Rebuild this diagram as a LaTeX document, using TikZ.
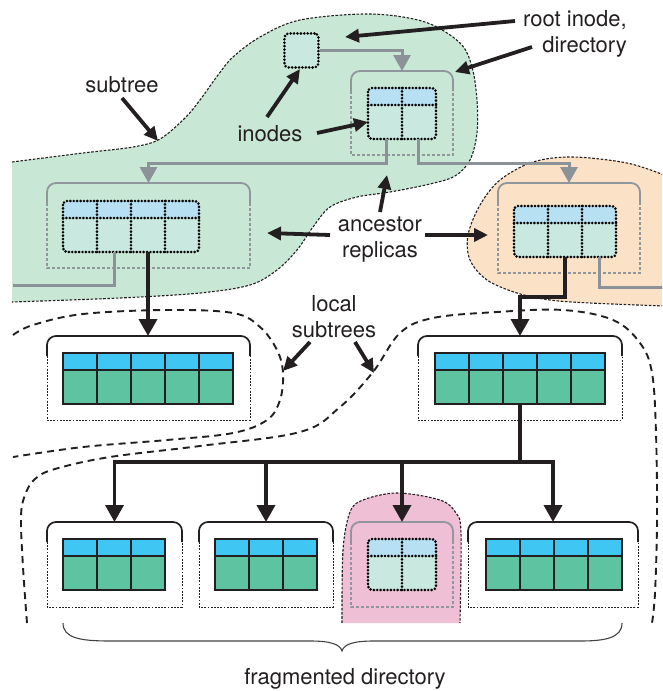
\documentclass[tikz,border=0pt]{standalone}
\usepackage{fontspec}
\setmainfont{TeX Gyre Heros}
\usetikzlibrary{arrows.meta}

\definecolor{ink}{HTML}{231F20}
\definecolor{greenreg}{HTML}{C9E7D5}
\definecolor{orangereg}{HTML}{FBE1C5}
\definecolor{pinkreg}{HTML}{EFBFD5}
\definecolor{hdrB}{HTML}{3FC6F3}
\definecolor{bodyG}{HTML}{5DC3A0}
\definecolor{hdrL}{HTML}{B7E0F3}
\definecolor{bodyL}{HTML}{C9E8E0}
\definecolor{gline}{HTML}{8B9298}
\definecolor{gbox}{HTML}{90979C}

\tikzset{
  regionline/.style={draw=ink, line width=1.1pt, dash pattern=on 2.6pt off 1.6pt},
  localline/.style={draw=ink, line width=1.9pt, dash pattern=on 7pt off 5pt},
  gplain/.style={draw=gline, line width=3pt},
  gconn/.style={gplain, -{Triangle[length=16pt,width=17pt]}},
  bline/.style={draw=ink, line width=3.6pt},
  bconn/.style={bline, -{Triangle[length=17pt,width=18pt]}},
  note/.style={draw=ink, line width=3.8pt, -{Triangle[length=14pt,width=13pt]}},
  lbl/.style={font=\fontsize{22}{26}\selectfont, text=ink, inner sep=0pt},
  tabnode/.style={draw=none, minimum height=51pt, inner sep=0pt, outer sep=0pt},
  solidgrid/.style={draw=ink, line width=1.8pt},
  dotgrid/.style={draw=black, line width=2.9pt, line cap=round, dash pattern=on 0pt off 3.4pt},
  blacktop/.style={draw=ink, line width=1.7pt},
  blackrest/.style={draw=ink, line width=1pt, dash pattern=on 1.8pt off 1.4pt},
  graytop/.style={draw=gbox, line width=1.8pt},
  grayrest/.style={draw=gbox, line width=1.2pt, dash pattern=on 3pt off 2pt},
}

% table with solid cell borders: name, left, top, columns
\newcommand\soltab[4]{%
  \node[tabnode, minimum width=#4*34pt, anchor=north west] (#1) at (#2,#3) {};
  \fill[hdrB] (#2,#3) rectangle ++(#4*34,17);
  \fill[bodyG] (#2,#3+17) rectangle ++(#4*34,34);
  \draw[solidgrid] (#2,#3) rectangle ++(#4*34,51);
  \draw[solidgrid] (#2,#3+17) -- ++(#4*34,0);
  \pgfmathtruncatemacro\ncut{#4-1}
  \foreach \k in {1,...,\ncut} {\draw[solidgrid] (#2+\k*34,#3) -- ++(0,51);}
}

% replicated table with dotted cell borders: name, left, top, columns
\newcommand\dottab[4]{%
  \node[tabnode, minimum width=#4*34pt, anchor=north west] (#1) at (#2,#3) {};
  \begin{scope}
    \clip[rounded corners=4pt] (#2,#3) rectangle ++(#4*34,51);
    \fill[bodyL] (#2,#3) rectangle ++(#4*34,51);
    \fill[hdrL] (#2,#3) rectangle ++(#4*34,17);
  \end{scope}
  \draw[dotgrid, rounded corners=4pt] (#2,#3) rectangle ++(#4*34,51);
  \draw[dotgrid] (#2,#3+17) -- ++(#4*34,0);
  \pgfmathtruncatemacro\ncut{#4-1}
  \foreach \k in {1,...,\ncut} {\draw[dotgrid] (#2+\k*34,#3) -- ++(0,51);}
}

% directory holder: name, x1, y1, x2, y2, kind (black/gray)
\newcommand\holder[6]{%
  \node[inner sep=0pt, outer sep=0pt, minimum width={#4pt-#2pt},
        minimum height={#5pt-#3pt}, anchor=north west] (#1) at (#2,#3) {};
  \draw[#6top, rounded corners=9pt] (#2,#3+20) -- (#2,#3) -- (#4,#3) -- (#4,#3+20);
  \draw[#6rest] (#2,#3+20) -- (#2,#5) -- (#4,#5) -- (#4,#3+20);
}

\begin{document}
\begin{tikzpicture}[x=1pt, y=-1pt]
\useasboundingbox (0,0) rectangle (662,691);
\clip (0,0) rectangle (662,691);

% ---- regions ----
\path[regionline, fill=greenreg] plot[smooth, tension=0.55] coordinates {
  (12,162) (83,153) (133,147) (160,139) (185,118) (200,100) (218,75) (233,57)
  (260,37) (300,20) (370,14) (425,22) (460,43) (472,67) (477,100) (477,133)
  (470,160) (455,176) (430,184) (390,192) (357,197) (330,207) (313,227)
  (297,250) (277,270) (250,285) (200,293) (120,298) (12,302)};

\path[regionline, fill=orangereg] plot[smooth, tension=0.55] coordinates {
  (664,175) (627,163) (573,157) (533,162) (500,180) (480,205) (468,235)
  (470,260) (487,280) (517,293) (550,300) (590,303) (664,306)};

\path[regionline, fill=pinkreg] plot[smooth, tension=0.55] coordinates {
  (342,623) (343,550) (350,512) (363,500) (397,493) (440,500) (456,513)
  (461,533) (460,623)};

\draw[localline] plot[smooth, tension=0.6] coordinates {
  (13,335) (33,325) (83,314) (167,310) (233,313) (260,327) (277,350)
  (283,373) (280,400) (267,420) (233,433) (167,440) (83,447) (13,457)};

\draw[localline] plot[smooth, tension=0.6] coordinates {
  (27,623) (23,567) (21,517) (25,495) (35,479) (55,469) (110,457) (200,446)
  (300,432) (340,407) (373,372) (400,333) (433,318) (497,312) (563,310)
  (613,320) (640,343) (652,373) (656,433) (657,520) (655,593) (652,623)};

% ---- holders ----
\holder{rdc}{351}{71}{453}{155}{gray}
\holder{lrc}{47}{183}{250}{268}{gray}
\holder{rrc}{498}{183}{640}{273}{gray}
\holder{ls1c}{47}{336}{250}{420}{black}
\holder{ls2c}{418}{336}{622}{420}{black}
\holder{bA}{47}{522}{182}{607}{black}
\holder{bB}{199}{522}{333}{607}{black}
\holder{pc}{351}{522}{453}{607}{gray}
\holder{bD}{468}{522}{638}{607}{black}

% ---- free ends ----
\coordinate (lgEnd) at (13,285);
\coordinate (rgEnd) at (664,287);
\coordinate (bus) at (520,462);

% ---- root inode and tables ----
\node[dotgrid, fill=bodyL, rounded corners=4pt, minimum size=34pt, inner sep=0pt,
      anchor=north west] (ri) at (283,32) {};
\dottab{rd}{368}{88}{2}
\dottab{lt}{63}{201}{4}
\dottab{rt}{514}{206}{3}
\soltab{sa}{63}{353}{5}
\soltab{sb}{435}{353}{5}
\soltab{sA}{63}{539}{3}
\soltab{sB}{215}{539}{3}
\dottab{pt}{368}{539}{2}
\soltab{sD}{486}{539}{4}

% ---- replica links ----
\draw[gconn] (ri.east) -| (rdc.north);
\draw[gconn] ([xshift=-16pt]rd.south) -- ++(0,24) -| (lrc.north);
\draw[gconn] ([xshift=16pt]rd.south) -- ++(0,24) -| (rrc.north);
\draw[gplain] ([xshift=-17pt]lt.south) |- (lgEnd);
\draw[gplain] ([xshift=34pt]rt.south) |- (rgEnd);

% ---- local links ----
\draw[bconn] ([xshift=17pt]lt.south) -- ([xshift=17pt]lt.south |- ls1c.north);
\draw[bconn] (rt.south) -- ++(0,40) -| (ls2c.north);
\draw[bline] (sb.south) -- (bus);
\draw[bconn] (bus) -| (bA.north);
\draw[bconn] (bus) -| (bB.north);
\draw[bconn] (bus) -| (pc.north);
\draw[bconn] (bus) -| (bD.north);

% ---- brace ----
\draw[draw=ink!85, line width=1.1pt]
  (63,623) .. controls (63,638) and (80,641) .. (110,641) -- (310,641)
  .. controls (330,641) and (340,644) .. (342,651)
  .. controls (344,644) and (354,641) .. (374,641) -- (580,641)
  .. controls (605,641) and (622,638) .. (622,623);

% ---- labels (base anchor sits on the last line) ----
\node[lbl, anchor=base] (lsub) at (122,92) {subtree};
\node[lbl, anchor=base east, align=right] (lroot) at (627,52) {root inode,\\directory};
\node[lbl, anchor=base] (lino) at (270,141) {inodes};
\node[lbl, anchor=base, align=center] (lanc) at (380,257) {ancestor\\replicas};
\node[lbl, anchor=base, align=center] (lloc) at (334,337) {local\\subtrees};
\node[lbl, anchor=base] (lfrag) at (345,684) {fragmented directory};

% ---- pointers ----
\coordinate (t1) at (122,98);   \coordinate (h1) at (158,141);
\coordinate (t2) at (515,21);   \coordinate (h2) at (345,37);
\coordinate (t3) at (532,47);   \coordinate (h3) at (455,72);
\coordinate (t4) at (267,117);  \coordinate (h4) at (300,69);
\coordinate (t5) at (317,133);  \coordinate (h5) at (368,122);
\coordinate (t6) at (380,212);  \coordinate (h6) at (387,175);
\coordinate (t7) at (330,235);  \coordinate (h7) at (267,233);
\coordinate (t8) at (425,235);  \coordinate (h8) at (488,235);
\coordinate (t9) at (310,342);  \coordinate (h9) at (283,371);
\coordinate (t10) at (355,342); \coordinate (h10) at (374,373);
\foreach \i in {1,...,10} {\draw[note] (t\i) -- (h\i);}
\end{tikzpicture}
\end{document}
